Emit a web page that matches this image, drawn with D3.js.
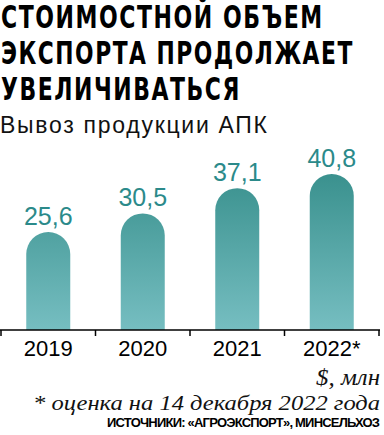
<!doctype html>
<html><head><meta charset="utf-8"/>
<style>
  body { margin:0; background:#fff; }
  svg { display:block; }
</style>
</head><body>
<svg id="g" width="384" height="435"></svg>
<script src="https://cdn.jsdelivr.net/npm/d3@7"></script>
<script>
// Вывоз продукции АПК, $ млн
const years = ["2019", "2020", "2021", "2022"];
const yearLabels = ["2019", "2020", "2021", "2022*"];
const values = [25.6, 30.5, 37.1, 40.8];
const titleLines = ["СТОИМОСТНОЙ ОБЪЕМ", "ЭКСПОРТА ПРОДОЛЖАЕТ", "УВЕЛИЧИВАТЬСЯ"];
const subtitle = "Вывоз продукции АПК";
const unitNote = "$, млн";
const footNote = "* оценка на 14 декабря 2022 года";
const sourceNote = "ИСТОЧНИКИ: «АГРОЭКСПОРТ», МИНСЕЛЬХОЗ";

const svg = d3.select("#g");
const baseY = 330;

// squeeze a text horizontally to a target width, keeping its left (or right) edge
function fitWidth(sel, w, anchorRight) {
  sel.each(function () {
    const t = d3.select(this);
    const nat = this.getComputedTextLength();
    const x0 = +t.attr("x");
    const k = w / nat;
    t.attr("transform", `translate(${x0},0) scale(${k},1) translate(${-x0},0)`);
  });
}

// title: condensed heavy caps
const titleW = [323, 353, 240];
svg.selectAll("text.title").data(titleLines).enter().append("text")
  .attr("class", "title")
  .attr("x", 1).attr("y", (d, i) => 28 + i * 36)
  .style("font-family", "'Liberation Sans Narrow', 'DejaVu Sans Condensed', sans-serif")
  .style("font-weight", "bold").style("font-size", "31.5px").style("letter-spacing", "2px")
  .attr("fill", "#000")
  .text(d => d)
  .each(function (d, i) { fitWidth(d3.select(this), titleW[i]); });

svg.append("text").attr("x", 0).attr("y", 133)
  .attr("textLength", 267).attr("lengthAdjust", "spacing")
  .style("font-family", "'Liberation Sans Narrow', sans-serif")
  .style("font-size", "23px").attr("fill", "#111").text(subtitle);

// scales
const x = d3.scaleBand().domain(years).range([1, 379]).padding(0);
const y = d3.scaleLinear().domain([0, 40.8]).range([baseY, 174]);
const barW = 44, r = barW / 2;

const grad = svg.append("defs").append("linearGradient")
  .attr("id", "bg").attr("gradientUnits", "userSpaceOnUse")
  .attr("x1", 0).attr("x2", 0).attr("y1", y(40.8)).attr("y2", baseY);
grad.append("stop").attr("offset", "0%").attr("stop-color", "#3a918e");
grad.append("stop").attr("offset", "100%").attr("stop-color", "#76bec1");

svg.selectAll("path.bar").data(values).enter().append("path")
  .attr("class", "bar")
  .attr("fill", "url(#bg)")
  .attr("d", (d, i) => {
    const cx = x(years[i]) + x.bandwidth() / 2;
    const x0 = cx - r, x1 = cx + r, top = y(d);
    return `M${x0},${baseY}V${top + r}A${r},${r} 0 0 1 ${x1},${top + r}V${baseY}Z`;
  });

svg.selectAll("text.val").data(values).enter().append("text")
  .attr("class", "val")
  .attr("x", (d, i) => x(years[i]) + x.bandwidth() / 2)
  .attr("y", d => y(d) - 7)
  .attr("text-anchor", "middle")
  .style("font-family", "'Liberation Sans Narrow', sans-serif")
  .style("font-size", "25px").attr("fill", "#2b8a8a")
  .text(d => d.toFixed(1).replace(".", ","));

// axis
const axis = d3.axisBottom(x).tickSize(0).tickFormat((d, i) => yearLabels[i]);
const ax = svg.append("g").attr("transform", `translate(0,${baseY})`).call(axis);
ax.select(".domain").attr("stroke", "#000").attr("stroke-width", 1.5).attr("d", "M0,0H380");
ax.selectAll("text").attr("y", 26).attr("dy", 0).attr("fill", "#000")
  .style("font-family", "'Liberation Sans Narrow', sans-serif").style("font-size", "22px");
const bounds = years.map(d => x(d)).concat([379]);
ax.selectAll("line.sep").data(bounds).enter().append("line").attr("class", "sep")
  .attr("x1", d => d).attr("x2", d => d).attr("y1", 0).attr("y2", 6)
  .attr("stroke", "#000").attr("stroke-width", 1.5);

// notes
svg.append("text").attr("x", 380).attr("y", 385).attr("text-anchor", "end")
  .attr("textLength", 64).attr("lengthAdjust", "spacingAndGlyphs")
  .style("font-family", "'Liberation Serif', serif").style("font-style", "italic")
  .style("font-size", "23px").attr("fill", "#111").text(unitNote);
svg.append("text").attr("x", 380).attr("y", 410).attr("text-anchor", "end")
  .attr("textLength", 347).attr("lengthAdjust", "spacingAndGlyphs")
  .style("font-family", "'Liberation Serif', serif").style("font-style", "italic")
  .style("font-size", "22px").attr("fill", "#111").text(footNote);
svg.append("text").attr("x", 380).attr("y", 427).attr("text-anchor", "end")
  .attr("textLength", 273).attr("lengthAdjust", "spacing")
  .style("font-family", "'Liberation Sans Narrow', sans-serif").style("font-weight", "bold")
  .style("font-size", "13px").attr("fill", "#000").text(sourceNote);
</script>
</body></html>
